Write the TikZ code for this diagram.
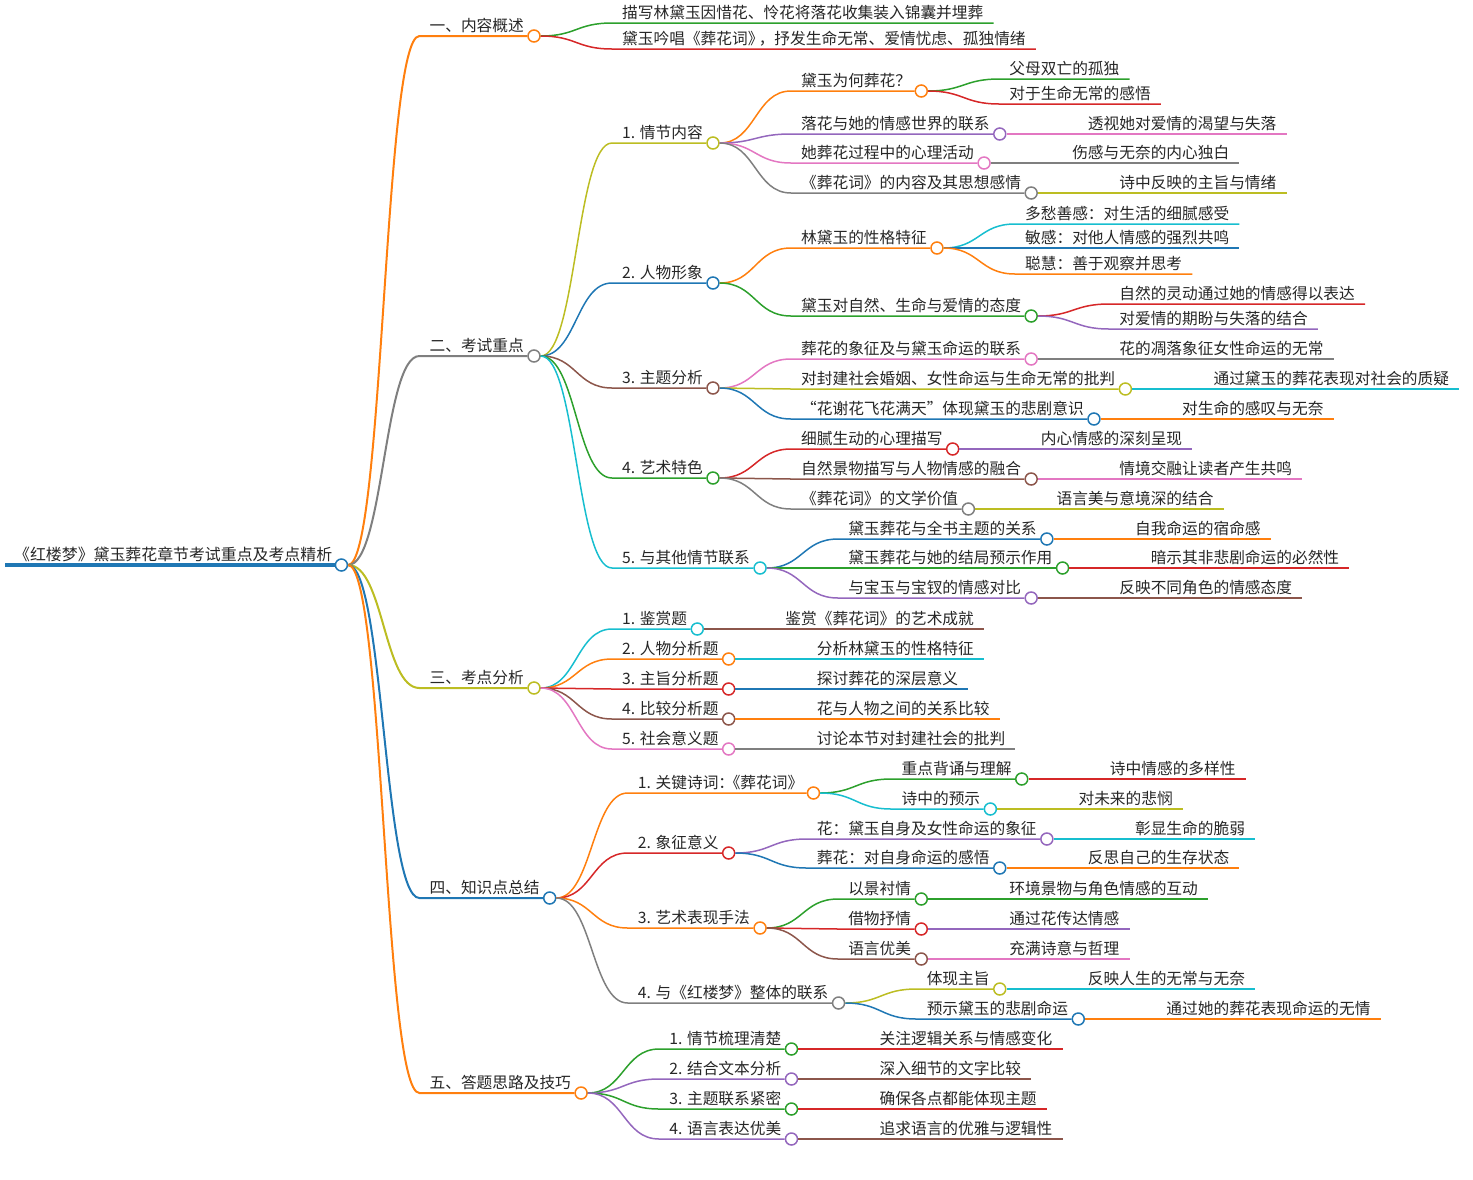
\documentclass[tikz,border=0pt]{standalone}
\usepackage{fontspec}
\usepackage{xcolor}
\usepackage{tikz}
\usetikzlibrary{calc}
\newfontfamily\cjk{Noto Sans CJK SC}
\definecolor{mmblue}{HTML}{1F77B4}
\definecolor{mmorange}{HTML}{FF7F0E}
\definecolor{mmgreen}{HTML}{2CA02C}
\definecolor{mmred}{HTML}{D62728}
\definecolor{mmpurple}{HTML}{9467BD}
\definecolor{mmbrown}{HTML}{8C564B}
\definecolor{mmpink}{HTML}{E377C2}
\definecolor{mmgray}{HTML}{7F7F7F}
\definecolor{mmolive}{HTML}{BCBD22}
\definecolor{mmcyan}{HTML}{17BECF}
\tikzset{
    textnode/.style={inner sep=0pt,anchor=base west,text=black!85,font=\cjk\fontsize{15.7}{18}\selectfont},
    dotnode/.style={circle,draw=#1,fill=white,line width=1.5pt,minimum size=12pt,inner sep=0pt},
    linkline/.style={draw=#1,line width=1.5pt},
    mainlink/.style={line width=2pt}
}
% [opts]{name}{parent}{y}{colour}{text}
\newcommand{\mmbranch}[6][]{%
  \coordinate (#2-y) at (0,#4);
  \coordinate (#2-in) at ($(#3-o |- #2-y)+(78,0)$);
  \node[textnode] (#2) at ($(#2-in)+(10,-5)$) {#6};
  \node[dotnode=#5] (#2-o) at ($(#2.east |- #2-in)+(10,0)$) {};
  \coordinate (#2-m) at ($(#3-o.east)!0.5!(#2-in)$);
  \draw[linkline=#5,#1] (#3-o.east) .. controls (#2-m |- #3-o.east) and (#2-m |- #2-in) .. (#2-in) -- (#2-o.west);
}
% {name}{parent}{y}{colour}{text}
\newcommand{\mmleaf}[5]{%
  \coordinate (#1-y) at (0,#3);
  \coordinate (#1-in) at ($(#2-o |- #1-y)+(78,0)$);
  \node[textnode] (#1) at ($(#1-in)+(10,-5)$) {#5};
  \coordinate (#1-end) at ($(#1.east |- #1-in)+(10,0)$);
  \coordinate (#1-m) at ($(#2-o.east)!0.5!(#1-in)$);
  \draw[linkline=#4] (#2-o.east) .. controls (#1-m |- #2-o.east) and (#1-m |- #1-in) .. (#1-in) -- (#1-end);
}

\begin{document}
\begin{tikzpicture}[x=1pt,y=-1pt]
\useasboundingbox (0,0) rectangle (1473,1179);

\coordinate (root-in) at (5,565);
\node[textnode,font=\cjk\fontsize{15.9}{18}\selectfont] (root) at (14,560) {《红楼梦》黛玉葬花章节考试重点及考点精析};
\node[dotnode=mmblue] (root-o) at ($(root.east |- root-in)+(9,0)$) {};
\draw[mmblue,line width=4.5pt] (root-in) -- (root-o.west);

\mmbranch[mainlink]{k1}{root}{36}{mmorange}{一、内容概述}
\mmbranch[mainlink]{k2}{root}{356}{mmgray}{二、考试重点}
\mmbranch[mainlink]{k3}{root}{688}{mmolive}{三、考点分析}
\mmbranch[mainlink]{k4}{root}{898}{mmblue}{四、知识点总结}
\mmbranch[mainlink]{k5}{root}{1093}{mmorange}{五、答题思路及技巧}

\mmleaf{k1a}{k1}{23}{mmgreen}{描写林黛玉因惜花、怜花将落花收集装入锦囊并埋葬}
\mmleaf{k1b}{k1}{49}{mmred}{黛玉吟唱《葬花词》\kern-0.3em，抒发生命无常、爱情忧虑、孤独情绪}

\mmbranch{k21}{k2}{143}{mmolive}{1. 情节内容}
\mmbranch{k22}{k2}{283}{mmblue}{2. 人物形象}
\mmbranch{k23}{k2}{388}{mmbrown}{3. 主题分析}
\mmbranch{k24}{k2}{478}{mmgreen}{4. 艺术特色}
\mmbranch{k25}{k2}{568}{mmcyan}{5. 与其他情节联系}

\mmbranch{k211}{k21}{91}{mmorange}{黛玉为何葬花？}
\mmleaf{k211a}{k211}{79}{mmgreen}{父母双亡的孤独}
\mmleaf{k211b}{k211}{104}{mmred}{对于生命无常的感悟}
\mmbranch{k212}{k21}{134}{mmpurple}{落花与她的情感世界的联系}
\mmleaf{k212a}{k212}{134}{mmpink}{透视她对爱情的渴望与失落}
\mmbranch{k213}{k21}{163}{mmpink}{她葬花过程中的心理活动}
\mmleaf{k213a}{k213}{163}{mmgray}{伤感与无奈的内心独白}
\mmbranch{k214}{k21}{193}{mmgray}{《葬花词》的内容及其思想感情}
\mmleaf{k214a}{k214}{193}{mmolive}{诗中反映的主旨与情绪}

\mmbranch{k221}{k22}{248}{mmorange}{林黛玉的性格特征}
\mmleaf{k221a}{k221}{224}{mmcyan}{多愁善感：对生活的细腻感受}
\mmleaf{k221b}{k221}{248}{mmblue}{敏感：对他人情感的强烈共鸣}
\mmleaf{k221c}{k221}{274}{mmorange}{聪慧：善于观察并思考}
\mmbranch{k222}{k22}{316}{mmgreen}{黛玉对自然、生命与爱情的态度}
\mmleaf{k222a}{k222}{304}{mmred}{自然的灵动通过她的情感得以表达}
\mmleaf{k222b}{k222}{329}{mmpurple}{对爱情的期盼与失落的结合}

\mmbranch{k231}{k23}{359}{mmpink}{葬花的象征及与黛玉命运的联系}
\mmleaf{k231a}{k231}{359}{mmgray}{花的凋落象征女性命运的无常}
\mmbranch{k232}{k23}{389}{mmolive}{对封建社会婚姻、女性命运与生命无常的批判}
\mmleaf{k232a}{k232}{389}{mmcyan}{通过黛玉的葬花表现对社会的质疑}
\mmbranch{k233}{k23}{419}{mmblue}{“花谢花飞花满天”体现黛玉的悲剧意识}
\mmleaf{k233a}{k233}{419}{mmorange}{对生命的感叹与无奈}

\mmbranch{k241}{k24}{449}{mmred}{细腻生动的心理描写}
\mmleaf{k241a}{k241}{449}{mmpurple}{内心情感的深刻呈现}
\mmbranch{k242}{k24}{479}{mmbrown}{自然景物描写与人物情感的融合}
\mmleaf{k242a}{k242}{479}{mmpink}{情境交融让读者产生共鸣}
\mmbranch{k243}{k24}{509}{mmgray}{《葬花词》的文学价值}
\mmleaf{k243a}{k243}{509}{mmolive}{语言美与意境深的结合}

\mmbranch{k251}{k25}{539}{mmblue}{黛玉葬花与全书主题的关系}
\mmleaf{k251a}{k251}{539}{mmorange}{自我命运的宿命感}
\mmbranch{k252}{k25}{568}{mmgreen}{黛玉葬花与她的结局预示作用}
\mmleaf{k252a}{k252}{568}{mmred}{暗示其非悲剧命运的必然性}
\mmbranch{k253}{k25}{598}{mmpurple}{与宝玉与宝钗的情感对比}
\mmleaf{k253a}{k253}{598}{mmbrown}{反映不同角色的情感态度}

\mmbranch{k31}{k3}{629}{mmcyan}{1. 鉴赏题}
\mmleaf{k31a}{k31}{629}{mmbrown}{鉴赏《葬花词》的艺术成就}
\mmbranch{k32}{k3}{659}{mmorange}{2. 人物分析题}
\mmleaf{k32a}{k32}{659}{mmcyan}{分析林黛玉的性格特征}
\mmbranch{k33}{k3}{689}{mmred}{3. 主旨分析题}
\mmleaf{k33a}{k33}{689}{mmblue}{探讨葬花的深层意义}
\mmbranch{k34}{k3}{719}{mmbrown}{4. 比较分析题}
\mmleaf{k34a}{k34}{719}{mmorange}{花与人物之间的关系比较}
\mmbranch{k35}{k3}{749}{mmpink}{5. 社会意义题}
\mmleaf{k35a}{k35}{749}{mmgray}{讨论本节对封建社会的批判}

\mmbranch{k41}{k4}{793}{mmorange}{1. 关键诗词：\kern-0.6em《葬花词》}
\mmbranch{k411}{k41}{779}{mmgreen}{重点背诵与理解}
\mmleaf{k411a}{k411}{779}{mmred}{诗中情感的多样性}
\mmbranch{k412}{k41}{809}{mmcyan}{诗中的预示}
\mmleaf{k412a}{k412}{809}{mmolive}{对未来的悲悯}
\mmbranch{k42}{k4}{853}{mmred}{2. 象征意义}
\mmbranch{k421}{k42}{839}{mmpurple}{花：黛玉自身及女性命运的象征}
\mmleaf{k421a}{k421}{839}{mmcyan}{彰显生命的脆弱}
\mmbranch{k422}{k42}{868}{mmblue}{葬花：对自身命运的感悟}
\mmleaf{k422a}{k422}{868}{mmorange}{反思自己的生存状态}
\mmbranch{k43}{k4}{928}{mmorange}{3. 艺术表现手法}
\mmbranch{k431}{k43}{899}{mmgreen}{以景衬情}
\mmleaf{k431a}{k431}{899}{mmgreen}{环境景物与角色情感的互动}
\mmbranch{k432}{k43}{929}{mmred}{借物抒情}
\mmleaf{k432a}{k432}{929}{mmpurple}{通过花传达情感}
\mmbranch{k433}{k43}{959}{mmbrown}{语言优美}
\mmleaf{k433a}{k433}{959}{mmpink}{充满诗意与哲理}
\mmbranch{k44}{k4}{1003}{mmgray}{4. 与《红楼梦》整体的联系}
\mmbranch{k441}{k44}{989}{mmolive}{体现主旨}
\mmleaf{k441a}{k441}{989}{mmcyan}{反映人生的无常与无奈}
\mmbranch{k442}{k44}{1019}{mmblue}{预示黛玉的悲剧命运}
\mmleaf{k442a}{k442}{1019}{mmorange}{通过她的葬花表现命运的无情}

\mmbranch{k51}{k5}{1049}{mmgreen}{1. 情节梳理清楚}
\mmleaf{k51a}{k51}{1049}{mmred}{关注逻辑关系与情感变化}
\mmbranch{k52}{k5}{1079}{mmpurple}{2. 结合文本分析}
\mmleaf{k52a}{k52}{1079}{mmbrown}{深入细节的文字比较}
\mmbranch{k53}{k5}{1109}{mmgreen}{3. 主题联系紧密}
\mmleaf{k53a}{k53}{1109}{mmred}{确保各点都能体现主题}
\mmbranch{k54}{k5}{1139}{mmpurple}{4. 语言表达优美}
\mmleaf{k54a}{k54}{1139}{mmbrown}{追求语言的优雅与逻辑性}

\end{tikzpicture}
\end{document}
